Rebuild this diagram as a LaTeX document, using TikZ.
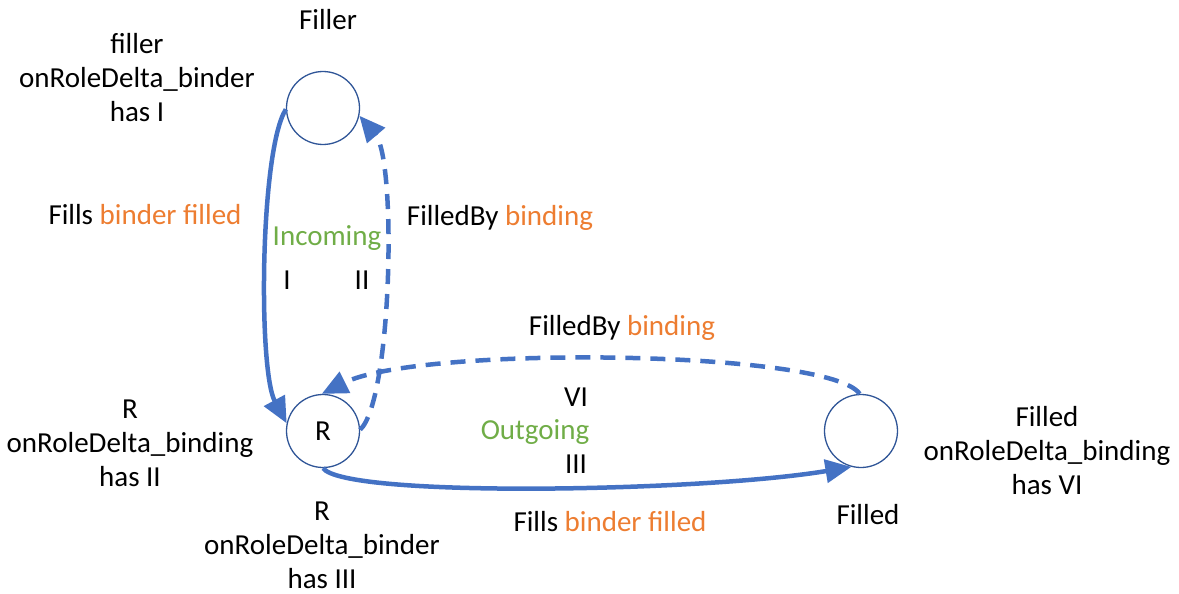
\documentclass[tikz,border=0pt]{standalone}
\usepackage{fontspec}
\setmainfont{Carlito}
\usetikzlibrary{arrows.meta}
\definecolor{lineblue}{RGB}{68,114,196}
\definecolor{circblue}{RGB}{47,85,151}
\definecolor{orng}{RGB}{237,125,49}
\definecolor{grn}{RGB}{112,173,71}
\tikzset{
  state/.style={circle,draw=circblue,line width=1.3pt,minimum size=73pt,inner sep=0pt,font=\fontsize{29}{34}\selectfont},
  lbl/.style={align=center,inner sep=0pt,font=\fontsize{29}{34}\selectfont},
  conn/.style={draw=lineblue,line width=4.5pt,-{Triangle[length=26pt,width=23pt]}},
  dconn/.style={conn,dash pattern=on 15pt off 10pt}
}
\begin{document}
\begin{tikzpicture}[x=1pt,y=-1pt]
\useasboundingbox (0,0) rectangle (1179,594);
\node[state] (filler) at (323,108) {};
\node[state] (R) at (323,431) {R};
\node[state] (filled) at (861,431) {};

\node[lbl] (fillertop) at (328,20) {Filler};
\node[lbl] (fillertxt) at (137,78) {filler\\onRoleDelta\_binder\\has I};
\node[lbl] (rbinding) at (130,443) {R\\onRoleDelta\_binding\\has II};
\node[lbl] (rbinder) at (322,545) {R\\onRoleDelta\_binder\\has III};
\node[lbl] (filledtxt) at (1047,451) {Filled\\onRoleDelta\_binding\\has VI};
\node[lbl] (filledlbl) at (868,515) {Filled};
\node[lbl] (fills1) at (145,215) {Fills \textcolor{orng}{binder filled}};
\node[lbl,text=grn] (incoming) at (327,238) {Incoming};
\node[lbl] (filledby1) at (500,218) {FilledBy \textcolor{orng}{binding}};
\node[lbl] (one) at (287,280) {I};
\node[lbl] (two) at (362,280) {II};
\node[lbl] (filledby2) at (622,328) {FilledBy \textcolor{orng}{binding}};
\node[lbl] (six) at (576,397) {VI};
\node[lbl,text=grn] (outgoing) at (535,432) {Outgoing};
\node[lbl] (three) at (576,464) {III};
\node[lbl] (fills2) at (610,522) {Fills \textcolor{orng}{binder filled}};

\draw[conn] (filler.182) .. controls (260,150) and (258,370) .. (R.168);
\draw[dconn] (R.2) .. controls (392,400) and (397,160) .. (filler.-12);
\draw[dconn] (filled.92) .. controls (830,350) and (420,345) .. (R.92);
\draw[conn] (R.-90) .. controls (345,498) and (700,492) .. (filled.-105);
\end{tikzpicture}
\end{document}
